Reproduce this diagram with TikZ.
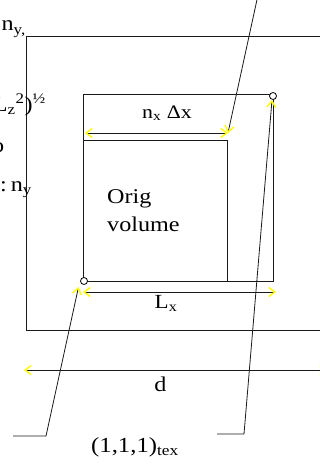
\documentclass[tikz,border=0pt]{standalone}
\usepackage{fontspec}
\setmainfont[FakeStretch=1.15]{Liberation Serif}
\usetikzlibrary{arrows.meta}
\definecolor{mYellow}{HTML}{FFFF00}
\definecolor{mLine}{HTML}{1A1A1A}
\tikzset{
  yb/.tip={Straight Barb[color=mYellow, length=6pt, width=9pt, line width=1.4pt]},
  dimarrow/.style={{yb}-{yb}, line width=1pt, draw=mLine},
  leader/.style={-{yb}, line width=0.8pt, draw=mLine},
  lbl/.style={inner sep=0pt, anchor=base, font=\fontsize{21}{24}\selectfont},
}
\begin{document}
\begin{tikzpicture}[x=1pt, y=-1pt]
    \useasboundingbox (0,0) rectangle (320,468);
    \clip (0,0) rectangle (320,468);
    % boxes
    \draw[line width=1pt, mLine] (26,37) rectangle (340,330);
    \draw[line width=1pt, mLine] (83,95) rectangle (273,281);
    \draw[line width=1pt, mLine] (83,140) rectangle (227,281);
    \coordinate (orig) at (84,281);
    \coordinate (texc) at (273,96);
    \draw[line width=0.8pt, fill=white] (orig) circle[radius=3.5pt];
    \draw[line width=0.8pt, fill=white] (texc) circle[radius=3.5pt];
    % cut text on the left
    \node[lbl, anchor=base east] (nycut) at (26,31) {n\textsubscript{y,}};
    \node[lbl, anchor=base east] (lzcut) at (46,111) {L\textsubscript{z}\textsuperscript{2})\textsuperscript{½}};
    \node[lbl, anchor=base east] (tocut) at (4.5,152) {o};
    \node[lbl, anchor=base east] (nycut2) at (32,191) {:\kern4pt n\textsubscript{y}};
    % dimensions
    \coordinate (nxL) at (85,133);  \coordinate (nxR) at (228,133);
    \coordinate (lxL) at (83,292);  \coordinate (lxR) at (276,292);
    \coordinate (dL) at (24,370);   \coordinate (dR) at (327,370);
    \foreach \a/\b in {nxL/nxR, lxL/lxR, dL/dR} {
      \draw[dimarrow] (\a) -- (\b);
    }
    \node[lbl, font=\fontsize{19}{22}\selectfont] (nxlbl) at (167,118) {n\textsubscript{x} Δx};
    \node[lbl, font=\fontsize{20}{24}\selectfont] (lxlbl) at (166,308) {L\textsubscript{x}};
    \node[lbl] (dlbl) at (160.5,391) {d};
    \node[lbl, anchor=base west] (origlbl) at (107,203) {Orig};
    \node[lbl, anchor=base west] (vollbl) at (107,231) {volume};
    \node[lbl, font=\fontsize{21.5}{25}\selectfont] (texlbl) at (135,452) {(1,1,1)\textsubscript{tex}};
    % leaders
    \coordinate (topend) at (258,-5);
    \coordinate (lfoot) at (13,436);  \coordinate (lknee) at (46,436);
    \coordinate (rfoot) at (217,434); \coordinate (rknee) at (244,434);
    \coordinate (origtip) at (78.5,287);
    \coordinate (textip) at (272,100);
    \draw[leader] (topend) -- (nxR);
    \draw[leader] (lfoot) -- (lknee) -- (origtip);
    \draw[leader] (rfoot) -- (rknee) -- (textip);
\end{tikzpicture}
\end{document}
